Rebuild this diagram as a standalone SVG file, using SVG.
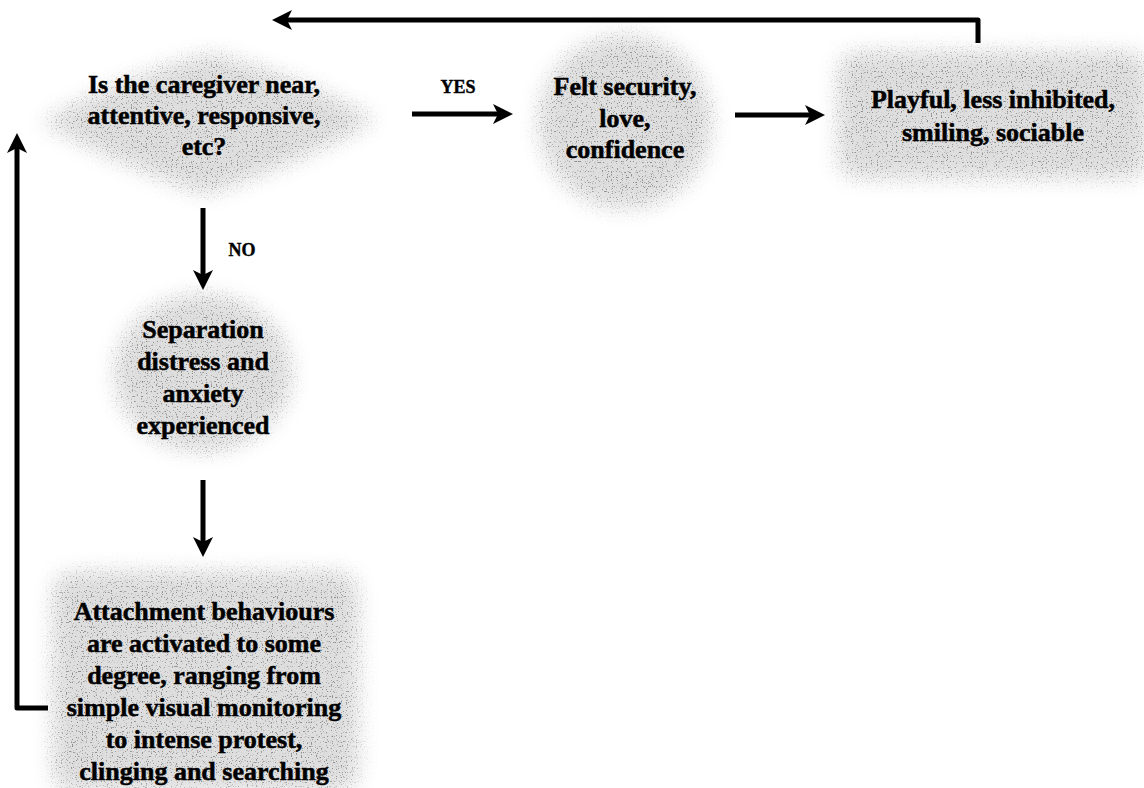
<svg xmlns="http://www.w3.org/2000/svg" width="1144" height="788" viewBox="0 0 1144 788">
  <defs>
    <style>
      .t { font-family: "Liberation Serif", "Times New Roman", serif; font-weight: bold; font-size: 26px; fill: #000; stroke: #000; stroke-width: 0.5; text-anchor: middle; }
      .lbl { font-family: "Liberation Serif", "Times New Roman", serif; font-weight: bold; font-size: 18px; fill: #000; stroke: #000; stroke-width: 0.4; text-anchor: middle; }
      .blob { fill: #000; filter: url(#stipple); }
      .conn { fill: none; stroke: #000; stroke-width: 5; stroke-linejoin: round; marker-end: url(#arrow); }
    </style>
    <filter id="stipple" x="-20%" y="-20%" width="140%" height="140%" color-interpolation-filters="sRGB">
      <feGaussianBlur in="SourceAlpha" stdDeviation="10" result="soft"/>
      <feTurbulence type="fractalNoise" baseFrequency="0.8" numOctaves="1" seed="7" result="noise"/>
      <feColorMatrix in="noise" type="matrix" values="0 0 0 0 0.3  0 0 0 0 0.3  0 0 0 0 0.3  0 0 0 9 -5.4" result="dots"/>
      <feComposite in="dots" in2="soft" operator="in" result="speck0"/>
      <feComponentTransfer in="speck0" result="speck">
        <feFuncA type="linear" slope="0.55"/>
      </feComponentTransfer>
      <feFlood flood-color="#000" flood-opacity="0.13" result="tint"/>
      <feComposite in="tint" in2="soft" operator="in" result="base"/>
      <feMerge>
        <feMergeNode in="base"/>
        <feMergeNode in="speck"/>
      </feMerge>
    </filter>
    <marker id="arrow" markerUnits="userSpaceOnUse" markerWidth="22" markerHeight="20" refX="7" refY="10" orient="auto">
      <path d="M0,0 L20,10 L0,20 L5,10 Z" fill="#000"/>
    </marker>
  </defs>

  <g id="node-decision">
    <path class="blob" d="M 42 122 Q 125 76 210 54 Q 300 76 375 120 Q 295 165 205 194 Q 120 165 42 122 Z"/>
    <text class="t" x="204" y="93">Is the caregiver near,</text>
    <text class="t" x="204" y="124">attentive, responsive,</text>
    <text class="t" x="204" y="155">etc?</text>
  </g>

  <g id="node-security">
    <ellipse class="blob" cx="625" cy="122" rx="86" ry="86"/>
    <text class="t" x="625" y="95">Felt security,</text>
    <text class="t" x="625" y="127">love,</text>
    <text class="t" x="625" y="158">confidence</text>
  </g>

  <g id="node-playful">
    <rect class="blob" x="838" y="52" width="310" height="126" rx="22"/>
    <text class="t" x="993" y="108">Playful, less inhibited,</text>
    <text class="t" x="993" y="141">smiling, sociable</text>
  </g>

  <g id="node-separation">
    <ellipse class="blob" cx="203" cy="373" rx="88" ry="78"/>
    <text class="t" x="203" y="338">Separation</text>
    <text class="t" x="203" y="370">distress and</text>
    <text class="t" x="203" y="402">anxiety</text>
    <text class="t" x="203" y="434">experienced</text>
  </g>

  <g id="node-attachment">
    <rect class="blob" x="53" y="572" width="305" height="220" rx="22"/>
    <text class="t" x="204" y="620">Attachment behaviours</text>
    <text class="t" x="204" y="652">are activated to some</text>
    <text class="t" x="204" y="684">degree, ranging from</text>
    <text class="t" x="204" y="716">simple visual monitoring</text>
    <text class="t" x="204" y="748">to intense protest,</text>
    <text class="t" x="204" y="780">clinging and searching</text>
  </g>

  <g id="connectors">
    <path class="conn" d="M 412 114 H 500"/>
    <path class="conn" d="M 735 115 H 812"/>
    <path class="conn" d="M 978 43 V 20 H 285"/>
    <path class="conn" d="M 203 208 V 277"/>
    <path class="conn" d="M 203 480 V 544"/>
    <path class="conn" d="M 48 708 H 17 V 146"/>
    <text class="lbl" x="458" y="93">YES</text>
    <text class="lbl" x="242" y="256">NO</text>
  </g>
</svg>
